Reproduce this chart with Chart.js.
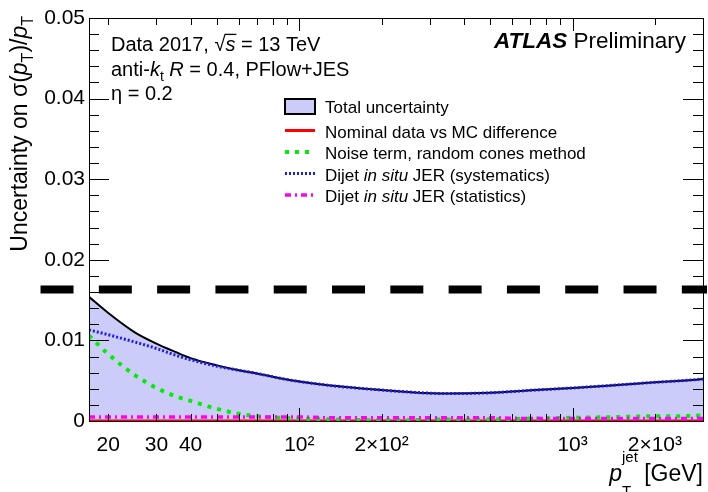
<!DOCTYPE html>
<html>
<head>
<meta charset="utf-8">
<script src="https://cdn.jsdelivr.net/npm/chart.js@4.4.1/dist/chart.umd.min.js"></script>
<style>
  html, body { margin: 0; padding: 0; background: #fff; }
  canvas { display: block; }
</style>
</head>
<body>
<canvas id="chart" width="708" height="492"></canvas>
<script>
const FAMILY = '"Liberation Sans", Arial, Helvetica, sans-serif';

// jet pT points (GeV) and the uncertainty components
const ptJet      = [17, 20, 25, 30, 35, 40, 50, 60, 70, 85, 100, 130, 175, 250, 350, 500, 700, 1000, 1500, 2000, 2500, 3000];
const totalUnc   = [0.0154, 0.0134, 0.0110, 0.0096, 0.0086, 0.0078, 0.0069, 0.0063, 0.0059, 0.0053, 0.0049, 0.0044, 0.0040, 0.0036, 0.0034, 0.0035, 0.0038, 0.0041, 0.0045, 0.0048, 0.0050, 0.0052];
const nominalUnc = [0, 0, 0, 0, 0, 0, 0, 0, 0, 0, 0, 0, 0, 0, 0, 0, 0, 0, 0, 0, 0, 0];
const noiseUnc   = [0.0106, 0.0083, 0.0057, 0.0041, 0.0031, 0.0025, 0.0015, 0.0009, 0.0006, 0.0004, 0.0003, 0.0002, 0.0001, 0.0001, 0.0002, 0.0002, 0.0003, 0.0004, 0.0005, 0.0006, 0.0006, 0.0007];
const systUnc    = [0.0113, 0.0107, 0.0098, 0.0090, 0.0082, 0.0076, 0.0068, 0.0063, 0.0059, 0.0053, 0.0049, 0.0044, 0.0040, 0.0036, 0.0034, 0.0035, 0.0038, 0.0041, 0.0045, 0.0048, 0.0050, 0.0052];
const statUnc    = [0.0005, 0.0005, 0.0005, 0.0005, 0.0005, 0.0005, 0.0005, 0.0005, 0.0005, 0.0005, 0.0005, 0.0004, 0.0004, 0.0004, 0.0004, 0.0004, 0.0003, 0.0003, 0.0003, 0.0003, 0.0003, 0.0003];

const xTickValues = [20, 30, 40, 50, 60, 70, 80, 90, 100, 200, 300, 400, 500, 600, 700, 800, 900, 1000, 2000, 3000];
const xMajorTicks = [100, 1000];
const xTickLabels = { 20: '20', 30: '30', 40: '40', 100: '10\u00B2', 200: '2\u00D710\u00B2', 1000: '10\u00B3', 2000: '2\u00D710\u00B3' };
const yTickLabels = { 0: '0', 0.01: '0.01', 0.02: '0.02', 0.03: '0.03', 0.04: '0.04', 0.05: '0.05' };

const refLine = 0.0163;      // horizontal dashed reference
const refLineFrom = 11.3;    // GeV, it runs out past the left axis

const fillColor = '#ccccf8';

function pts(ys) { return ptJet.map((x, i) => ({ x: x, y: ys[i] })); }
function font(size, style) { return (style || '') + ' ' + size + 'px ' + FAMILY; }

// draws a run of text pieces, returns total width
function drawRich(ctx, x, y, parts, draw) {
  let cx = x, held = 0;
  for (const p of parts) {
    ctx.font = font(p.s, p.f);
    const w = ctx.measureText(p.t).width;
    if (draw) ctx.fillText(p.t, cx, y + (p.dy || 0));
    if (draw && p.over) {
      ctx.save();
      ctx.lineWidth = 1.3;
      ctx.strokeStyle = '#000';
      ctx.beginPath();
      ctx.moveTo(cx - 1, y - p.s * 0.83);
      ctx.lineTo(cx + w + 1, y - p.s * 0.83);
      ctx.stroke();
      ctx.restore();
    }
    if (p.hold) { held = w; continue; }
    cx += Math.max(w, held);
    held = 0;
  }
  return cx - x;
}

const frameTicks = {
  id: 'frameTicks',
  afterDraw(chart) {
    const ctx = chart.ctx, a = chart.chartArea;
    const xs = chart.scales.x, ys = chart.scales.y;
    ctx.save();
    ctx.strokeStyle = '#000';
    ctx.lineWidth = 1;
    ctx.strokeRect(a.left + 0.5, a.top + 0.5, a.right - a.left, a.bottom - a.top);
    ctx.beginPath();
    for (const v of xTickValues) {
      const px = Math.round(xs.getPixelForValue(v)) + 0.5;
      const len = xMajorTicks.includes(v) ? 13 : 7;
      ctx.moveTo(px, a.bottom); ctx.lineTo(px, a.bottom - len);
      ctx.moveTo(px, a.top); ctx.lineTo(px, a.top + len);
    }
    for (let i = 0; i <= 25; i++) {
      const py = Math.round(ys.getPixelForValue(i * 0.002)) + 0.5;
      const len = i % 5 === 0 ? 20 : 10;
      ctx.moveTo(a.left, py); ctx.lineTo(a.left + len, py);
      ctx.moveTo(a.right, py); ctx.lineTo(a.right - len, py);
    }
    ctx.stroke();
    ctx.restore();
  }
};

const refDashes = {
  id: 'refDashes',
  afterDatasetsDraw(chart) {
    const ctx = chart.ctx, a = chart.chartArea;
    const y = chart.scales.y.getPixelForValue(refLine);
    const x0 = chart.scales.x.getPixelForValue(refLineFrom);
    ctx.save();
    ctx.strokeStyle = '#000';
    ctx.lineWidth = 8;
    ctx.setLineDash([33, 25.3]);
    ctx.beginPath();
    ctx.moveTo(x0, y);
    ctx.lineTo(a.right + 4, y);
    ctx.stroke();
    ctx.restore();
  }
};

const annotations = {
  id: 'annotations',
  afterDraw(chart) {
    const ctx = chart.ctx, a = chart.chartArea;
    ctx.save();
    ctx.fillStyle = '#000';
    ctx.textBaseline = 'alphabetic';
    ctx.textAlign = 'left';

    // top-left labels
    drawRich(ctx, 111, 51, [
      { t: 'Data 2017, ', s: 20 }, { t: '\u221A', s: 20 }, { t: 's', s: 20, f: 'italic', over: true },
      { t: ' = 13 TeV', s: 20 }], true);
    drawRich(ctx, 111, 75.5, [
      { t: 'anti-', s: 20 }, { t: 'k', s: 20, f: 'italic' }, { t: 't', s: 14, dy: 5 },
      { t: ' ', s: 20 }, { t: 'R', s: 20, f: 'italic' }, { t: ' = 0.4, PFlow+JES', s: 20 }], true);
    drawRich(ctx, 111, 100, [{ t: '\u03B7 = 0.2', s: 20 }], true);

    // ATLAS label
    drawRich(ctx, 494, 48, [{ t: 'ATLAS', s: 22.5, f: 'italic bold' }, { t: ' Preliminary', s: 22.5 }], true);

    // legend
    const lx0 = 285, lx1 = 315, tx = 325;
    ctx.fillStyle = fillColor;
    ctx.fillRect(lx0, 99, lx1 - lx0, 15);
    ctx.strokeStyle = '#000';
    ctx.lineWidth = 2;
    ctx.strokeRect(lx0, 99, lx1 - lx0, 15);
    ctx.fillStyle = '#000';
    drawRich(ctx, tx, 112.5, [{ t: 'Total uncertainty', s: 17 }], true);

    const entries = [
      { ds: 1, parts: [{ t: 'Nominal data vs MC difference', s: 17 }] },
      { ds: 2, parts: [{ t: 'Noise term, random cones method', s: 17 }] },
      { ds: 3, parts: [{ t: 'Dijet ', s: 17 }, { t: 'in situ', s: 17, f: 'italic' }, { t: ' JER (systematics)', s: 17 }] },
      { ds: 4, parts: [{ t: 'Dijet ', s: 17 }, { t: 'in situ', s: 17, f: 'italic' }, { t: ' JER (statistics)', s: 17 }] }
    ];
    entries.forEach((e, k) => {
      const d = chart.data.datasets[e.ds];
      const ly = 130.5 + 21.5 * k;
      ctx.save();
      ctx.strokeStyle = d.borderColor;
      ctx.lineWidth = d.borderWidth;
      ctx.setLineDash(d.borderDash || []);
      ctx.beginPath();
      ctx.moveTo(lx0, ly); ctx.lineTo(lx1, ly);
      ctx.stroke();
      ctx.restore();
      drawRich(ctx, tx, 137.5 + 21.5 * k, e.parts, true);
    });

    // x axis title, right aligned to the frame
    const xt = [
      { t: 'p', s: 23, f: 'italic' }, { t: 'jet', s: 15, dy: -19, hold: true }, { t: 'T', s: 15, dy: 15 },
      { t: ' [GeV]', s: 23 }];
    const xw = drawRich(ctx, 0, 0, xt, false);
    drawRich(ctx, a.right - xw, 481, xt, true);

    // y axis title, rotated, ending at the top of the frame
    const yt = [
      { t: 'Uncertainty on \u03C3(', s: 23 }, { t: 'p', s: 23, f: 'italic' }, { t: 'T', s: 16, dy: 6 },
      { t: ')/', s: 23 }, { t: 'p', s: 23, f: 'italic' }, { t: 'T', s: 16, dy: 6 }];
    const yw = drawRich(ctx, 0, 0, yt, false);
    ctx.translate(27, a.top - 2);
    ctx.rotate(-Math.PI / 2);
    drawRich(ctx, -yw, 0, yt, true);
    ctx.restore();
  }
};

new Chart(document.getElementById('chart'), {
  type: 'line',
  data: {
    datasets: [
      { label: 'Total uncertainty', data: pts(totalUnc), borderColor: '#000', borderWidth: 2,
        fill: 'origin', backgroundColor: fillColor, order: 5 },
      { label: 'Nominal data vs MC difference', data: pts(nominalUnc), borderColor: '#ff0000', borderWidth: 3,
        fill: false, order: 4 },
      { label: 'Noise term, random cones method', data: pts(noiseUnc), borderColor: '#00ee00', borderWidth: 4,
        borderDash: [4, 6], fill: false, order: 3 },
      { label: 'Dijet in situ JER (systematics)', data: pts(systUnc), borderColor: '#1a1aff', borderWidth: 3,
        borderDash: [2, 2], fill: false, order: 2 },
      { label: 'Dijet in situ JER (statistics)', data: pts(statUnc), borderColor: '#ff00ff', borderWidth: 3.5,
        borderDash: [6, 4, 2, 4], fill: false, order: 1 }
    ]
  },
  options: {
    responsive: false,
    animation: false,
    layout: { padding: { top: 18, right: 5, left: 0, bottom: 0 } },
    elements: { point: { radius: 0 }, line: { cubicInterpolationMode: 'monotone' } },
    plugins: { legend: { display: false }, tooltip: { enabled: false } },
    scales: {
      x: {
        type: 'logarithmic', min: 17, max: 3000,
        grid: { display: false, drawTicks: false }, border: { display: false },
        afterBuildTicks: s => { s.ticks = xTickValues.map(v => ({ value: v })); },
        afterFit: s => { s.height = 71; s.paddingLeft = 0; s.paddingRight = 0; },
        ticks: { autoSkip: false, maxRotation: 0, minRotation: 0, padding: 12, color: '#000',
                 font: { family: FAMILY, size: 21 }, callback: v => xTickLabels[v] || '' }
      },
      y: {
        min: 0, max: 0.05,
        grid: { display: false, drawTicks: false }, border: { display: false },
        afterFit: s => { s.width = 89; s.paddingTop = 0; s.paddingBottom = 0; },
        ticks: { stepSize: 0.01, padding: 4, color: '#000', font: { family: FAMILY, size: 21 },
                 callback: v => { const k = Math.round(v * 100) / 100; return yTickLabels[k] !== undefined ? yTickLabels[k] : ''; } }
      }
    }
  },
  plugins: [refDashes, frameTicks, annotations]
});
</script>
</body>
</html>
